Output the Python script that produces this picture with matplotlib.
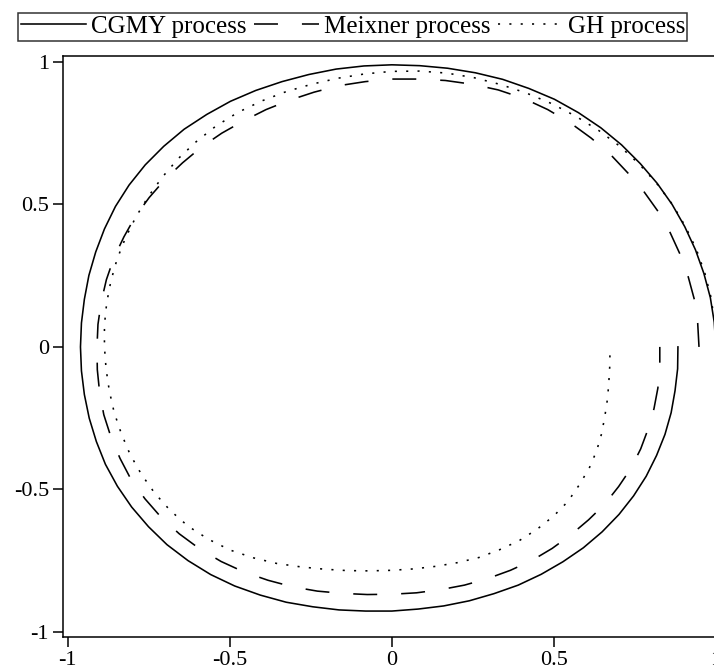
import numpy as np
import matplotlib
matplotlib.use("Agg")
import matplotlib.pyplot as plt

plt.rcParams['font.family'] = ['Liberation Serif', 'DejaVu Serif']

cgmy_x = [1.000, 0.995, 0.983, 0.963, 0.937, 0.904, 0.865, 0.819, 0.767, 0.709,
          0.645, 0.576, 0.502, 0.423, 0.342, 0.258, 0.172, 0.086, 0.000,
          -0.086, -0.172, -0.256, -0.339, -0.420, -0.498, -0.571, -0.641, -0.704,
          -0.761, -0.811, -0.853, -0.887, -0.914, -0.935, -0.949, -0.958, -0.961,
          -0.958, -0.949, -0.934, -0.912, -0.884, -0.847, -0.803, -0.751, -0.694,
          -0.629, -0.559, -0.485, -0.406, -0.326, -0.244, -0.163, -0.081, 0.000,
          0.081, 0.160, 0.239, 0.315, 0.390, 0.461, 0.528, 0.591, 0.649,
          0.701, 0.746, 0.785, 0.817, 0.843, 0.862, 0.874, 0.882, 0.883]
cgmy_y = [0.000, 0.087, 0.173, 0.258, 0.341, 0.422, 0.500, 0.574, 0.643, 0.709,
          0.769, 0.822, 0.869, 0.907, 0.939, 0.962, 0.978, 0.987, 0.990,
          0.986, 0.975, 0.956, 0.931, 0.900, 0.862, 0.816, 0.764, 0.704,
          0.639, 0.568, 0.493, 0.414, 0.333, 0.251, 0.167, 0.084, 0.000,
          -0.084, -0.167, -0.250, -0.332, -0.412, -0.489, -0.562, -0.631, -0.694,
          -0.750, -0.799, -0.839, -0.871, -0.896, -0.912, -0.923, -0.927, -0.927,
          -0.920, -0.909, -0.891, -0.866, -0.836, -0.798, -0.754, -0.705, -0.649,
          -0.588, -0.523, -0.454, -0.381, -0.307, -0.231, -0.154, -0.077, 0.000]

meixner_x = [0.948, 0.944, 0.934, 0.915, 0.890, 0.859, 0.822, 0.778, 0.728, 0.675,
             0.615, 0.551, 0.481, 0.407, 0.328, 0.247, 0.165, 0.082, 0.000,
             -0.082, -0.162, -0.240, -0.315, -0.388, -0.458, -0.525, -0.588, -0.646,
             -0.700, -0.749, -0.792, -0.827, -0.858, -0.881, -0.897, -0.907, -0.910,
             -0.909, -0.902, -0.889, -0.867, -0.839, -0.805, -0.762, -0.712, -0.656,
             -0.594, -0.527, -0.456, -0.382, -0.306, -0.230, -0.152, -0.076, 0.000,
             0.076, 0.150, 0.224, 0.296, 0.366, 0.433, 0.495, 0.553, 0.607,
             0.657, 0.700, 0.738, 0.768, 0.791, 0.809, 0.821, 0.827, 0.827]
meixner_y = [0.000, 0.083, 0.165, 0.245, 0.324, 0.401, 0.475, 0.545, 0.611, 0.675,
             0.733, 0.786, 0.833, 0.872, 0.902, 0.922, 0.935, 0.940, 0.940,
             0.931, 0.917, 0.894, 0.866, 0.833, 0.793, 0.750, 0.701, 0.646,
             0.588, 0.524, 0.457, 0.386, 0.312, 0.236, 0.158, 0.079, 0.000,
             -0.080, -0.159, -0.238, -0.316, -0.391, -0.465, -0.533, -0.598, -0.656,
             -0.708, -0.753, -0.790, -0.819, -0.842, -0.857, -0.865, -0.869, -0.868,
             -0.863, -0.852, -0.836, -0.813, -0.784, -0.749, -0.707, -0.659, -0.607,
             -0.552, -0.490, -0.426, -0.358, -0.288, -0.217, -0.145, -0.072, 0.000]

gh_x = [1.000, 0.996, 0.985, 0.966, 0.940, 0.906, 0.866, 0.818, 0.764, 0.704,
        0.638, 0.567, 0.493, 0.415, 0.335, 0.253, 0.169, 0.085, 0.000,
        -0.084, -0.166, -0.247, -0.326, -0.402, -0.475, -0.543, -0.604, -0.660,
        -0.709, -0.752, -0.790, -0.822, -0.848, -0.867, -0.880, -0.887, -0.887,
        -0.882, -0.872, -0.857, -0.835, -0.808, -0.773, -0.732, -0.684, -0.629,
        -0.566, -0.499, -0.428, -0.355, -0.281, -0.209, -0.138, -0.069, 0.000,
        0.068, 0.136, 0.203, 0.269, 0.332, 0.393, 0.448, 0.499, 0.543,
        0.578, 0.609, 0.632, 0.648, 0.658, 0.666, 0.670, 0.673, 0.673]
gh_y = [0.000, 0.087, 0.174, 0.259, 0.342, 0.423, 0.500, 0.573, 0.641, 0.704,
        0.760, 0.810, 0.854, 0.891, 0.921, 0.945, 0.961, 0.968, 0.967,
        0.958, 0.943, 0.922, 0.896, 0.863, 0.823, 0.775, 0.720, 0.660,
        0.595, 0.527, 0.456, 0.383, 0.308, 0.232, 0.155, 0.078, 0.000,
        -0.077, -0.154, -0.230, -0.304, -0.377, -0.447, -0.513, -0.574, -0.629,
        -0.675, -0.713, -0.740, -0.760, -0.772, -0.780, -0.785, -0.786, -0.784,
        -0.779, -0.770, -0.757, -0.739, -0.712, -0.680, -0.640, -0.594, -0.543,
        -0.485, -0.426, -0.365, -0.302, -0.239, -0.179, -0.118, -0.059, 0.000]

xticks = [-1, -0.5, 0, 0.5, 1]
xlabels = ['-1', '-0.5', '0', '0.5', '1']
yticks = [-1, -0.5, 0, 0.5, 1]
ylabels = ['-1', '-0.5', '0', '0.5', '1']

fig = plt.figure(figsize=(7.14, 6.72), dpi=100)
ax = fig.add_axes([0.0882, 0.0521, 0.928, 0.8646])

lw = 1.15
ax.plot(cgmy_x, cgmy_y, color='black', lw=lw, label='CGMY process')
ax.plot(meixner_x, meixner_y, color='black', lw=lw, linestyle=(0, (15, 15)),
        label='Meixner process')
ax.plot(gh_x, gh_y, color='black', lw=lw, linestyle=(0, (1.3, 5.8)),
        label='GH process')

ax.set_xlim(-1.015, 1.03)
ax.set_ylim(-1.018, 1.021)
ax.set_xticks(xticks)
ax.set_xticklabels(xlabels)
ax.set_yticks(yticks)
ax.set_yticklabels(ylabels)
ax.tick_params(direction='out', length=7, width=1.1, labelsize=16, pad=3)
for s in ax.spines.values():
    s.set_linewidth(1.1)

leg = fig.legend(loc='center', bbox_to_anchor=(0.494, 0.96), ncol=3,
                 fontsize=18, frameon=True, fancybox=False, edgecolor='black',
                 handlelength=2.6, handletextpad=0.2, columnspacing=0.3,
                 borderpad=0.1, borderaxespad=0)
leg.get_frame().set_linewidth(1.1)

fig.savefig('out.png', dpi=100)
